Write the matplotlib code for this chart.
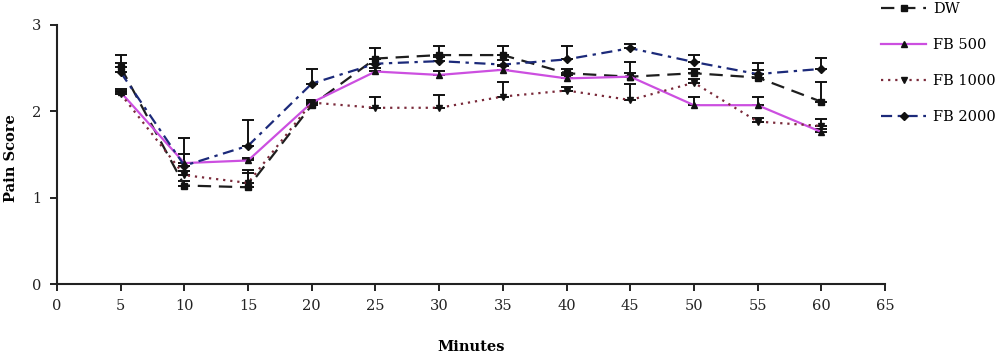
import matplotlib
matplotlib.use("Agg")
import matplotlib.pyplot as plt
import numpy as np

plt.rcParams['font.family'] = ['DejaVu Serif']

# data
minutes = [5, 10, 15, 20, 25, 30, 35, 40, 45, 50, 55, 60]

dw = [2.51, 1.14, 1.12, 2.07, 2.61, 2.65, 2.65, 2.44, 2.40, 2.44, 2.39, 2.11]
dw_err = [0.14, 0.05, 0.20, 0.04, 0.12, 0.10, 0.10, 0.05, 0.17, 0.05, 0.17, 0.23]

fb500 = [2.22, 1.40, 1.43, 2.10, 2.46, 2.42, 2.48, 2.38, 2.40, 2.07, 2.07, 1.76]
fb500_err = [0.04, 0.10, 0.03, 0.03, 0.04, 0.04, 0.04, 0.04, 0.04, 0.10, 0.09, 0.03]

fb1000 = [2.20, 1.26, 1.17, 2.10, 2.04, 2.04, 2.17, 2.24, 2.13, 2.33, 1.88, 1.83]
fb1000_err = [0.04, 0.05, 0.12, 0.03, 0.13, 0.15, 0.17, 0.04, 0.18, 0.04, 0.04, 0.08]

fb2000 = [2.45, 1.37, 1.60, 2.32, 2.55, 2.58, 2.54, 2.60, 2.73, 2.57, 2.43, 2.49]
fb2000_err = [0.11, 0.32, 0.30, 0.17, 0.05, 0.05, 0.05, 0.15, 0.05, 0.08, 0.05, 0.13]

labels = ['DW', 'FB 500', 'FB 1000', 'FB 2000']

fig = plt.figure(figsize=(10, 3.55), dpi=100)
ax = fig.add_axes([0.057, 0.2, 0.828, 0.73])

# (values, errors, line colour, dash pattern, marker)
series = [
    (dw, dw_err, '#1e1e1e', (0, (6, 3.5)), 's'),
    (fb500, fb500_err, '#cc4fe0', '-', '^'),
    (fb1000, fb1000_err, '#7a2a3a', (0, (1, 2.2)), 'v'),
    (fb2000, fb2000_err, '#1c2a7a', (0, (5, 2.5, 1.5, 2.5)), 'D'),
]

for (vals, err, col, ls, mk), lab in zip(series, labels):
    # error bars only go up
    yerr = np.array([np.zeros(len(err)), err])
    ax.errorbar(minutes, vals, yerr=yerr, fmt='none', ecolor='#111111',
                elinewidth=1.4, capsize=4, capthick=1.4, zorder=2)
    ax.plot(minutes, vals, color=col, linestyle=ls, linewidth=1.6,
            marker=mk, markersize=5 if mk != 'D' else 4,
            markerfacecolor='#111111', markeredgecolor='#111111',
            label=lab, zorder=3)

ax.set_xlim(0, 65)
ax.set_ylim(0, 3)
ax.set_xticks(np.arange(0, 66, 5))
ax.set_yticks([0, 1, 2, 3])
ax.spines['top'].set_visible(False)
ax.spines['right'].set_visible(False)
for s in ['left', 'bottom']:
    ax.spines[s].set_linewidth(1.5)
    ax.spines[s].set_color('#222222')
ax.tick_params(direction='out', length=5, width=1.4, labelsize=10.5,
               colors='#222222', pad=6)

fig.text(0.471, 0.022, 'Minutes', ha='center', va='center',
         fontsize=10.5, fontweight='bold')
fig.text(0.011, 0.555, 'Pain Score', ha='center', va='center',
         rotation=90, fontsize=10.5, fontweight='bold')

fig.legend(loc='upper left', bbox_to_anchor=(0.881, 0.994), frameon=False,
           fontsize=10.5, handlelength=3.1, labelspacing=1.5,
           handletextpad=0.45, borderpad=0, borderaxespad=0)

fig.savefig('out.png', dpi=100)
